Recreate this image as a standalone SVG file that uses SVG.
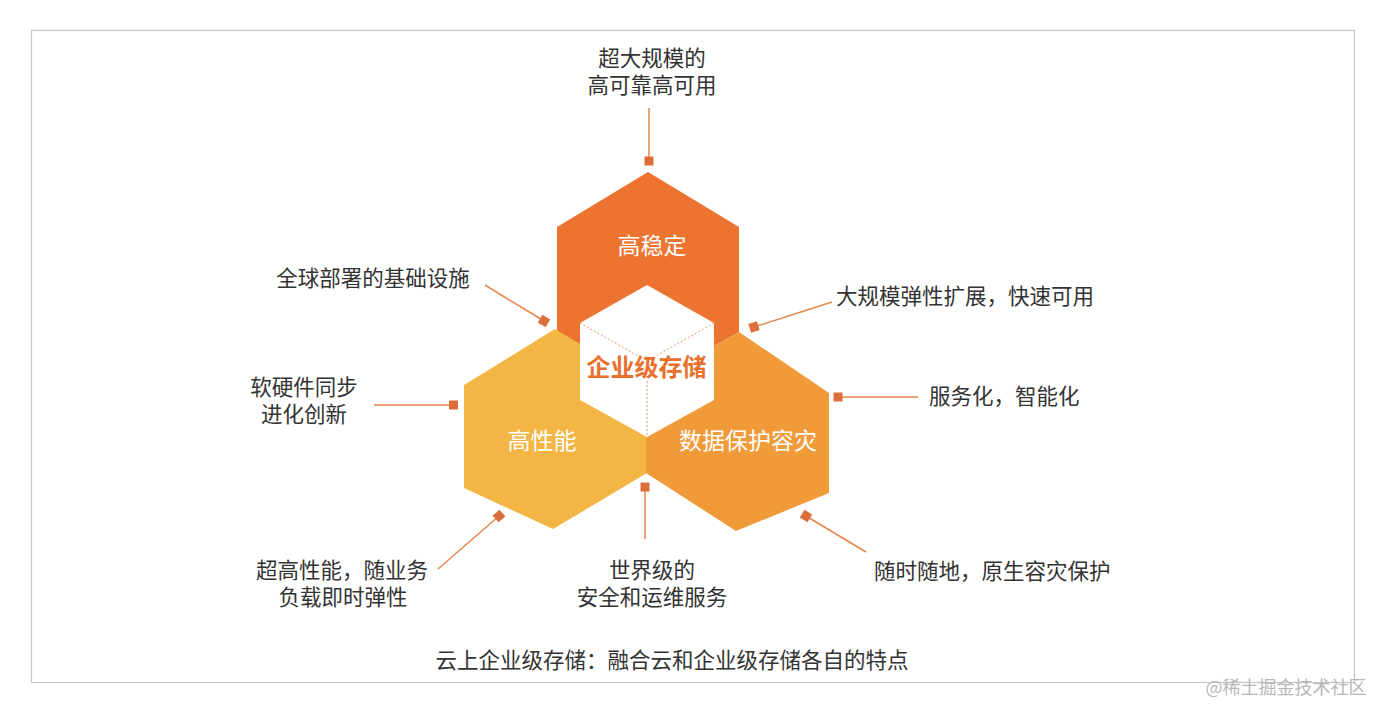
<svg xmlns="http://www.w3.org/2000/svg" width="1388" height="717" viewBox="0 0 1388 717">
<defs>
<style>
.t{font-family:"Noto Sans CJK SC","Noto Sans",sans-serif;font-size:21.5px;fill:#333;dominant-baseline:central}
.m{text-anchor:middle}
.h{font-family:"Noto Sans CJK SC","Noto Sans",sans-serif;font-size:23px;fill:#fff;text-anchor:middle;dominant-baseline:central}
.c{stroke:#E8844C;stroke-width:1.5;fill:none}
.sq{fill:#DC6E3C}
.dot{stroke:#E9946A;stroke-width:1;stroke-dasharray:2 2;fill:none}
</style>
</defs>
<rect x="0" y="0" width="1388" height="717" fill="#ffffff"/>
<rect x="31.5" y="30.5" width="1323" height="652" fill="#ffffff" stroke="#c6c6c6" stroke-width="1.2"/>

<g id="hex-top">
<polygon points="648,172 739,227 739,332 648,384 557,332 557,227" fill="#EC7430"/>
<text class="h" x="652" y="244">高稳定</text>
</g>
<g id="hex-left">
<polygon points="555,329 647,384 647,473 553,529 464,488 464,385" fill="#F3B645"/>
<text class="h" x="542" y="439">高性能</text>
</g>
<g id="hex-right">
<polygon points="739,332 829,393 829,493 736,531 646,473 646,385" fill="#F09A3A"/>
<text class="h" x="748" y="439">数据保护容灾</text>
</g>
<g id="core">
<polygon points="647,285 714,323 714,400 647,437 580,400 580,323" fill="#ffffff"/>
<path class="dot" d="M580,323 L647,361 L714,323 M647,361 L647,437"/>
<text x="646.5" y="365" text-anchor="middle" dominant-baseline="central" font-family="'Noto Sans CJK SC',sans-serif" font-size="24px" font-weight="bold" fill="#E8702C" stroke="#ffffff" stroke-width="3" paint-order="stroke">企业级存储</text>
</g>

<g id="connectors">
<line class="c" x1="649" y1="108" x2="649" y2="157"/>
<rect class="sq" x="644.5" y="156.5" width="9" height="9"/>
<line class="c" x1="485" y1="285" x2="544" y2="321"/>
<rect class="sq" x="-4.5" y="-4.5" width="9" height="9" transform="translate(544,321) rotate(31)"/>
<line class="c" x1="832" y1="302" x2="754" y2="327"/>
<rect class="sq" x="-4.5" y="-4.5" width="9" height="9" transform="translate(754,327) rotate(-18)"/>
<line class="c" x1="374" y1="405" x2="453" y2="405"/>
<rect class="sq" x="449" y="400.5" width="9" height="9"/>
<line class="c" x1="838" y1="397" x2="918" y2="397"/>
<rect class="sq" x="833.5" y="392.5" width="9" height="9"/>
<line class="c" x1="438" y1="569" x2="499" y2="516"/>
<rect class="sq" x="-4.5" y="-4.5" width="9" height="9" transform="translate(499,516) rotate(-41)"/>
<line class="c" x1="645" y1="487" x2="645" y2="539"/>
<rect class="sq" x="640.5" y="482.5" width="9" height="9"/>
<line class="c" x1="866" y1="552" x2="806" y2="516"/>
<rect class="sq" x="-4.5" y="-4.5" width="9" height="9" transform="translate(806,516) rotate(31)"/>
</g>

<g id="label-top">
<text class="t m" x="652" y="56">超大规模的</text>
<text class="t m" x="652" y="83">高可靠高可用</text>
</g>
<g id="label-global">
<text class="t m" x="373" y="276">全球部署的基础设施</text>
</g>
<g id="label-hw">
<text class="t m" x="304" y="385">软硬件同步</text>
<text class="t m" x="304" y="412">进化创新</text>
</g>
<g id="label-scale">
<text class="t" x="836" y="294">大规模弹性扩展，快速可用</text>
</g>
<g id="label-service">
<text class="t" x="929" y="394">服务化，智能化</text>
</g>
<g id="label-perf">
<text class="t m" x="342" y="568">超高性能，随业务</text>
<text class="t m" x="343" y="595">负载即时弹性</text>
</g>
<g id="label-security">
<text class="t m" x="652" y="568">世界级的</text>
<text class="t m" x="652" y="595">安全和运维服务</text>
</g>
<g id="label-dr">
<text class="t" x="874" y="569">随时随地，原生容灾保护</text>
</g>
<g id="caption">
<text class="t m" x="672" y="658">云上企业级存储：融合云和企业级存储各自的特点</text>
</g>
<text x="1286" y="686" text-anchor="middle" dominant-baseline="central" font-family="'Noto Sans CJK SC',sans-serif" font-size="18px" fill="#b8b8b8">@稀土掘金技术社区</text>
</svg>
